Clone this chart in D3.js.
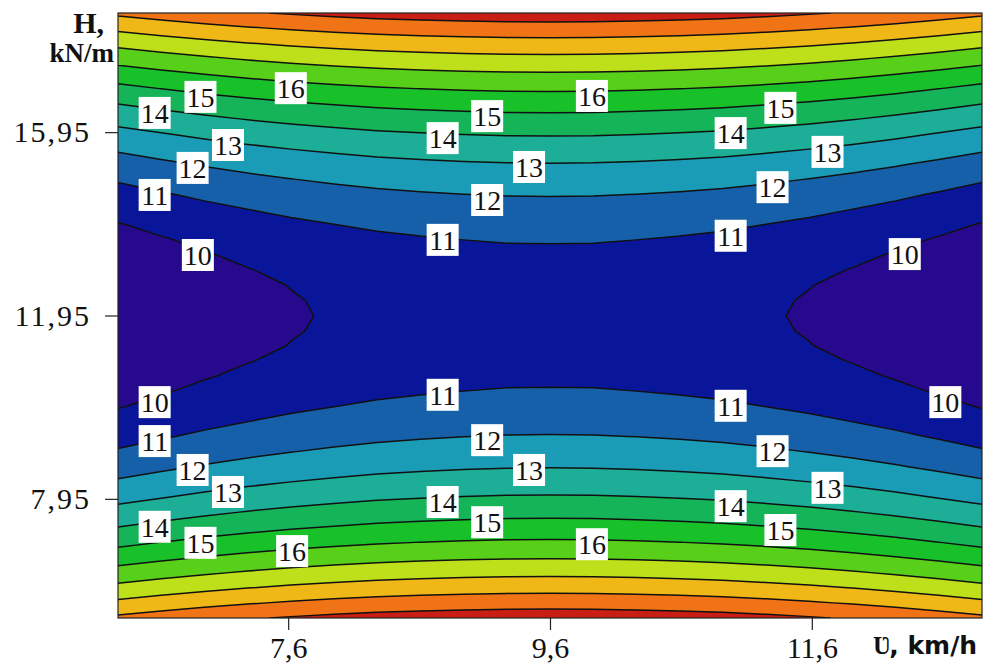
<!DOCTYPE html>
<html><head><meta charset="utf-8">
<script src="https://cdn.jsdelivr.net/npm/d3@7"></script>
</head><body style="margin:0">
<svg id="s" width="995" height="666"></svg>
<script>
// ---- data ----
// grid of speeds (km/h) and loads (kN/m) on which the response surface is sampled
const speedGrid = [6.3, 6.63, 6.96, 7.29, 7.62, 7.95, 8.28, 8.61, 8.94, 9.27, 9.6,
                   9.93, 10.26, 10.59, 10.92, 11.25, 11.58, 11.91, 12.24, 12.57, 12.9];
// surface value along the middle row (H = 11.95) at each grid speed
const zAlongSpeed = [9.03, 9.29, 9.53, 9.74, 9.92, 10.07, 10.20, 10.29, 10.36, 10.41, 10.42,
                     10.41, 10.36, 10.29, 10.20, 10.07, 9.92, 9.74, 9.53, 9.29, 9.03];
const hGrid = [5.35, 5.68, 6.01, 6.34, 6.67, 7.0, 7.33, 7.66, 7.99, 8.32, 8.65, 8.98, 9.31, 9.64,
               9.97, 10.3, 10.63, 10.96, 11.29, 11.62, 11.95, 12.28, 12.61, 12.94, 13.27, 13.6,
               13.93, 14.26, 14.59, 14.92, 15.25, 15.58, 15.91, 16.24, 16.57, 16.9, 17.23, 17.56,
               17.89, 18.22, 18.55];
// rise of the surface above the middle row at each grid load
const dzAlongH = [10.17, 9.18, 8.24, 7.35, 6.51, 5.72, 4.98, 4.30, 3.66, 3.08, 2.54, 2.06, 1.63,
                  1.25, 0.92, 0.64, 0.41, 0.23, 0.10, 0.03, 0, 0.03, 0.10, 0.23, 0.41, 0.64, 0.92,
                  1.25, 1.63, 2.06, 2.54, 3.08, 3.66, 4.30, 4.98, 5.72, 6.51, 7.35, 8.24, 9.18, 10.17];
const levels = [10, 11, 12, 13, 14, 15, 16, 17, 18, 19, 20];
const bandColors = ["#26098c", "#0a169a", "#1660aa", "#1a9cb6", "#1cae96", "#16b458", "#18c02a",
                    "#58d01a", "#bee01a", "#f0b816", "#f07416", "#c81e14"];
const xTicks = [7.6, 9.6, 11.6];
const yTicks = [7.95, 11.95, 15.95];
const labelLevel = [16, 15, 14, 13, 12, 11, 10,
                    15, 14, 16, 13, 12, 11,
                    15, 14, 13, 12, 11, 10,
                    10, 11, 12, 13, 14, 15, 16,
                    11, 12, 13, 14, 15, 16,
                    11, 12, 13, 14, 15, 10];
const labelSpeed = [7.62, 6.93, 6.58, 7.14, 6.87, 6.58, 6.91,
                    9.12, 8.78, 9.92, 9.44, 9.12, 8.78,
                    11.36, 10.98, 11.72, 11.30, 10.98, 12.31,
                    6.58, 6.58, 6.87, 7.14, 6.58, 6.93, 7.63,
                    8.78, 9.12, 9.44, 8.78, 9.12, 9.92,
                    10.98, 11.30, 11.72, 10.98, 11.36, 12.62];
const labelH = [16.91, 16.72, 16.37, 15.67, 15.17, 14.58, 13.27,
                16.30, 15.82, 16.74, 15.19, 14.47, 13.60,
                16.48, 15.93, 15.52, 14.75, 13.69, 13.29,
                10.06, 9.21, 8.58, 8.10, 7.34, 6.99, 6.81,
                10.22, 9.23, 8.58, 7.88, 7.44, 6.96,
                9.98, 8.99, 8.19, 7.79, 7.27, 10.06];
const xDomain = [6.3, 12.9];
const yDomain = [5.35, 18.55];

// ---- drawing ----
const SERIF = '"Liberation Serif"';
const SANS = '"DejaVu Sans"';
function serif(sel) { return sel.attr("font-family", "Liberation Serif").style("font-family", SERIF); }
const svg = d3.select("#s");
const m = {left: 118, top: 13, right: 13, bottom: 48};
const W = 995 - m.left - m.right, H = 666 - m.top - m.bottom;
const x = d3.scaleLinear().domain(xDomain).range([0, W]);
const y = d3.scaleLinear().domain(yDomain).range([H, 0]);

svg.append("defs").append("clipPath").attr("id", "clip")
  .append("rect").attr("width", W).attr("height", H);

const g = svg.append("g").attr("transform", `translate(${m.left},${m.top})`);
const plot = g.append("g").attr("clip-path", "url(#clip)");

const nx = speedGrid.length, ny = hGrid.length;
const values = new Array(nx * ny);
for (let j = 0; j < ny; j++)
  for (let i = 0; i < nx; i++) values[j * nx + i] = zAlongSpeed[i] + dzAlongH[j];

const contours = d3.contours().size([nx, ny]).thresholds(levels)(values);
const sx = speedGrid[1] - speedGrid[0], sy = hGrid[1] - hGrid[0];
const proj = d3.geoTransform({
  point(gx, gy) {
    this.stream.point(x(speedGrid[0] + (gx - 0.5) * sx), y(hGrid[0] + (gy - 0.5) * sy));
  }
});
const path = d3.geoPath(proj);

plot.append("rect").attr("width", W).attr("height", H).attr("fill", bandColors[0]);
plot.selectAll("path.band").data(contours).join("path").attr("class", "band")
  .attr("d", path).attr("fill", (d, k) => bandColors[k + 1]).attr("stroke", "none");
plot.selectAll("path.line").data(contours).join("path").attr("class", "line")
  .attr("d", path).attr("fill", "none").attr("stroke", "#111").attr("stroke-width", 1.5);

// contour labels
const labels = plot.selectAll("g.lab").data(labelLevel.map((v, i) => ({v, s: labelSpeed[i], h: labelH[i]})))
  .join("g").attr("class", "lab")
  .attr("transform", d => `translate(${x(d.s)},${y(d.h)})`);
labels.append("rect").attr("x", -16).attr("y", -16).attr("width", 32).attr("height", 32).attr("fill", "#fff");
labels.append("text").attr("text-anchor", "middle").attr("dy", "0.35em")
  .call(serif).style("font-size", "28px").attr("fill", "#111").text(d => d.v);

// frame
g.append("rect").attr("width", W).attr("height", H).attr("fill", "none")
  .attr("stroke", "#222").attr("stroke-width", 1.2);

const fmt = d => String(d).replace(".", ",");
const xAxis = g.append("g").attr("transform", `translate(0,${H})`)
  .call(d3.axisBottom(x).tickValues(xTicks).tickFormat(fmt).tickSize(12).tickPadding(7));
const yAxis = g.append("g")
  .call(d3.axisLeft(y).tickValues(yTicks).tickFormat(fmt).tickSize(13).tickPadding(14));
[xAxis, yAxis].forEach(a => {
  a.call(serif).attr("font-size", 30);
  a.select(".domain").remove();
  a.selectAll(".tick line").attr("stroke", "#222").attr("stroke-width", 1.2);
  a.selectAll(".tick text").call(serif).style("font-size", "30px").attr("fill", "#111");
});
yAxis.selectAll(".tick text").attr("letter-spacing", 2);

// axis titles
svg.append("text").attr("x", 104).attr("y", 33).attr("text-anchor", "end")
  .call(serif).style("font-weight", "bold").style("font-size", "30px")
  .attr("fill", "#111").text("H,");
svg.append("text").attr("x", 114).attr("y", 62).attr("text-anchor", "end")
  .call(serif).style("font-weight", "bold").style("font-size", "27px")
  .attr("fill", "#111").text("kN/m");
const xt = svg.append("text").attr("x", 873).attr("y", 654).attr("fill", "#111")
  .style("font-weight", "bold").style("font-size", "25px");
xt.append("tspan").call(serif).text("Ʋ");
xt.append("tspan").attr("font-family", "DejaVu Sans").style("font-family", SANS).text(", km/h");
</script>
</body></html>
